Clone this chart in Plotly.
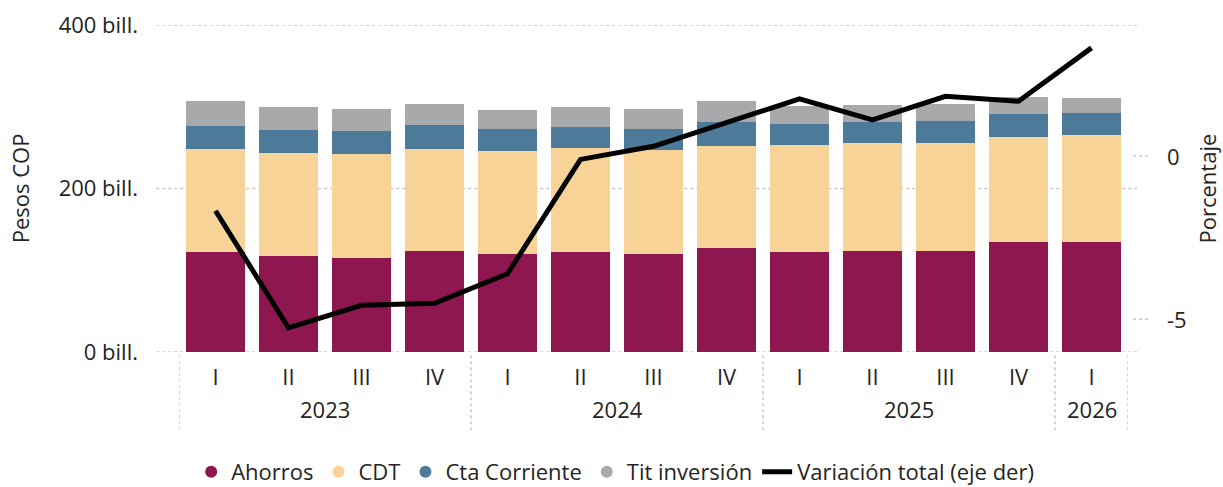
import plotly.graph_objects as go

years = ["2023"] * 4 + ["2024"] * 4 + ["2025"] * 4 + ["2026"]
quarters = ["I", "II", "III", "IV", "I", "II", "III", "IV", "I", "II", "III", "IV", "I"]

ahorros = [122.0, 117.4, 115.0, 123.5, 119.9, 122.3, 119.9, 127.2, 122.3, 123.5, 123.5, 134.6, 134.6]
cdt = [126.0, 126.0, 127.2, 124.8, 126.0, 127.2, 127.2, 124.8, 130.9, 132.2, 132.2, 128.4, 130.8]
cta_corriente = [28.5, 28.2, 28.1, 29.4, 26.9, 25.7, 25.7, 29.3, 25.7, 25.6, 26.9, 28.1, 27.0]
tit_inversion = [30.5, 28.4, 26.7, 25.7, 23.2, 24.5, 24.4, 25.7, 22.1, 20.7, 21.2, 20.8, 18.3]
variacion_total = [-1.68, -5.26, -4.57, -4.51, -3.61, -0.11, 0.29, 1.03, 1.74, 1.10, 1.82, 1.67, 3.30]

left_ticks = [0, 200, 400]
left_ticktext = [f"{v} bill." for v in left_ticks]
right_ticks = [-5, 0]
right_ticktext = [str(v) for v in right_ticks]
left_range = [0, 400]
right_range = [-6, 4]

colors = {
    "Ahorros": "#8E1750",
    "CDT": "#F8D398",
    "Cta Corriente": "#4C7A98",
    "Tit inversión": "#A8A9AB",
}
series = [
    ("Ahorros", ahorros),
    ("CDT", cdt),
    ("Cta Corriente", cta_corriente),
    ("Tit inversión", tit_inversion),
]

FONT = "Segoe UI, Open Sans, sans-serif"
GRID = "#c8c8c8"
TXT = "#252423"
FS = 22

idx = list(range(len(quarters)))
fig = go.Figure()
for name, vals in series:
    fig.add_trace(go.Bar(x=idx, y=vals, name=name, marker=dict(color=colors[name], line=dict(width=0)),
                         showlegend=False))
# legend proxies (circle markers)
for name, _ in series:
    fig.add_trace(go.Scatter(x=[idx[0]], y=[None], mode="markers", name=name,
                             marker=dict(color=colors[name], size=16, symbol="circle")))
fig.add_trace(go.Scatter(x=idx, y=variacion_total, name="Variación total (eje der)", mode="lines",
                         line=dict(color="black", width=5), yaxis="y2"))

shapes = []
annotations = []
for v in left_ticks:
    shapes.append(dict(type="line", xref="paper", yref="y", x0=-0.024, x1=1.0095, y0=v, y1=v,
                       line=dict(color=GRID, width=1.5, dash="dot"), layer="below"))
for v, t in zip(right_ticks, right_ticktext):
    shapes.append(dict(type="line", xref="paper", yref="y2", x0=1.0053, x1=1.021, y0=v, y1=v,
                       line=dict(color=GRID, width=1.5, dash="dot"), layer="below"))
    annotations.append(dict(x=1.0385, y=v, xref="paper", yref="y2", text=t, showarrow=False,
                            xanchor="left", yanchor="middle",
                            font=dict(size=FS, color=TXT, family=FONT)))

# year groups: dividers and centered labels
unique_years = []
for y_ in years:
    if y_ not in unique_years:
        unique_years.append(y_)
bounds = []
for yr in unique_years:
    members = [i for i, v in enumerate(years) if v == yr]
    lo, hi = members[0] - 0.5, members[-1] + 0.5
    bounds += [lo, hi]
    annotations.append(dict(x=(lo + hi) / 2, y=-0.174, xref="x", yref="paper", text=yr,
                            showarrow=False, yanchor="middle",
                            font=dict(size=FS, color=TXT, family=FONT)))
for b in sorted(set(bounds)):
    shapes.append(dict(type="line", xref="x", yref="paper", x0=b, x1=b, y0=-0.01, y1=-0.245,
                       line=dict(color=GRID, width=1.5, dash="dot")))

# right axis title
annotations.append(dict(x=1.0822, y=0.5, xref="paper", yref="paper", text="Porcentaje",
                        textangle=-90, showarrow=False, xanchor="center", yanchor="middle",
                        font=dict(size=FS, color=TXT, family=FONT)))

fig.update_layout(
    width=1223, height=487,
    margin=dict(l=179, r=95, t=25, b=135),
    paper_bgcolor="white", plot_bgcolor="white",
    font=dict(family=FONT, size=FS, color=TXT),
    barmode="stack", bargap=0.2,
    shapes=shapes, annotations=annotations,
    xaxis=dict(range=[idx[0] - 0.5, idx[-1] + 0.5], tickvals=idx, ticktext=quarters,
               showgrid=False, zeroline=False, showline=False, automargin=False,
               ticklabelstandoff=10, tickfont=dict(size=FS, color=TXT)),
    yaxis=dict(range=left_range, tickvals=left_ticks, ticktext=left_ticktext, showgrid=False,
               zeroline=False, showline=False, ticklabelstandoff=40, automargin=False,
               title=dict(text="Pesos COP", standoff=22, font=dict(size=FS))),
    yaxis2=dict(range=right_range, tickvals=right_ticks, overlaying="y", side="right",
                showgrid=False, zeroline=False, showline=False, automargin=False,
                showticklabels=False),
    legend=dict(orientation="h", xref="container", yref="container", x=0.503, xanchor="center",
                y=0.031, yanchor="middle", traceorder="normal", font=dict(size=FS),
                itemsizing="constant"),
)

fig.write_html("out.html", post_script="document.body.style.margin='0';",
               config={"displayModeBar": False})
